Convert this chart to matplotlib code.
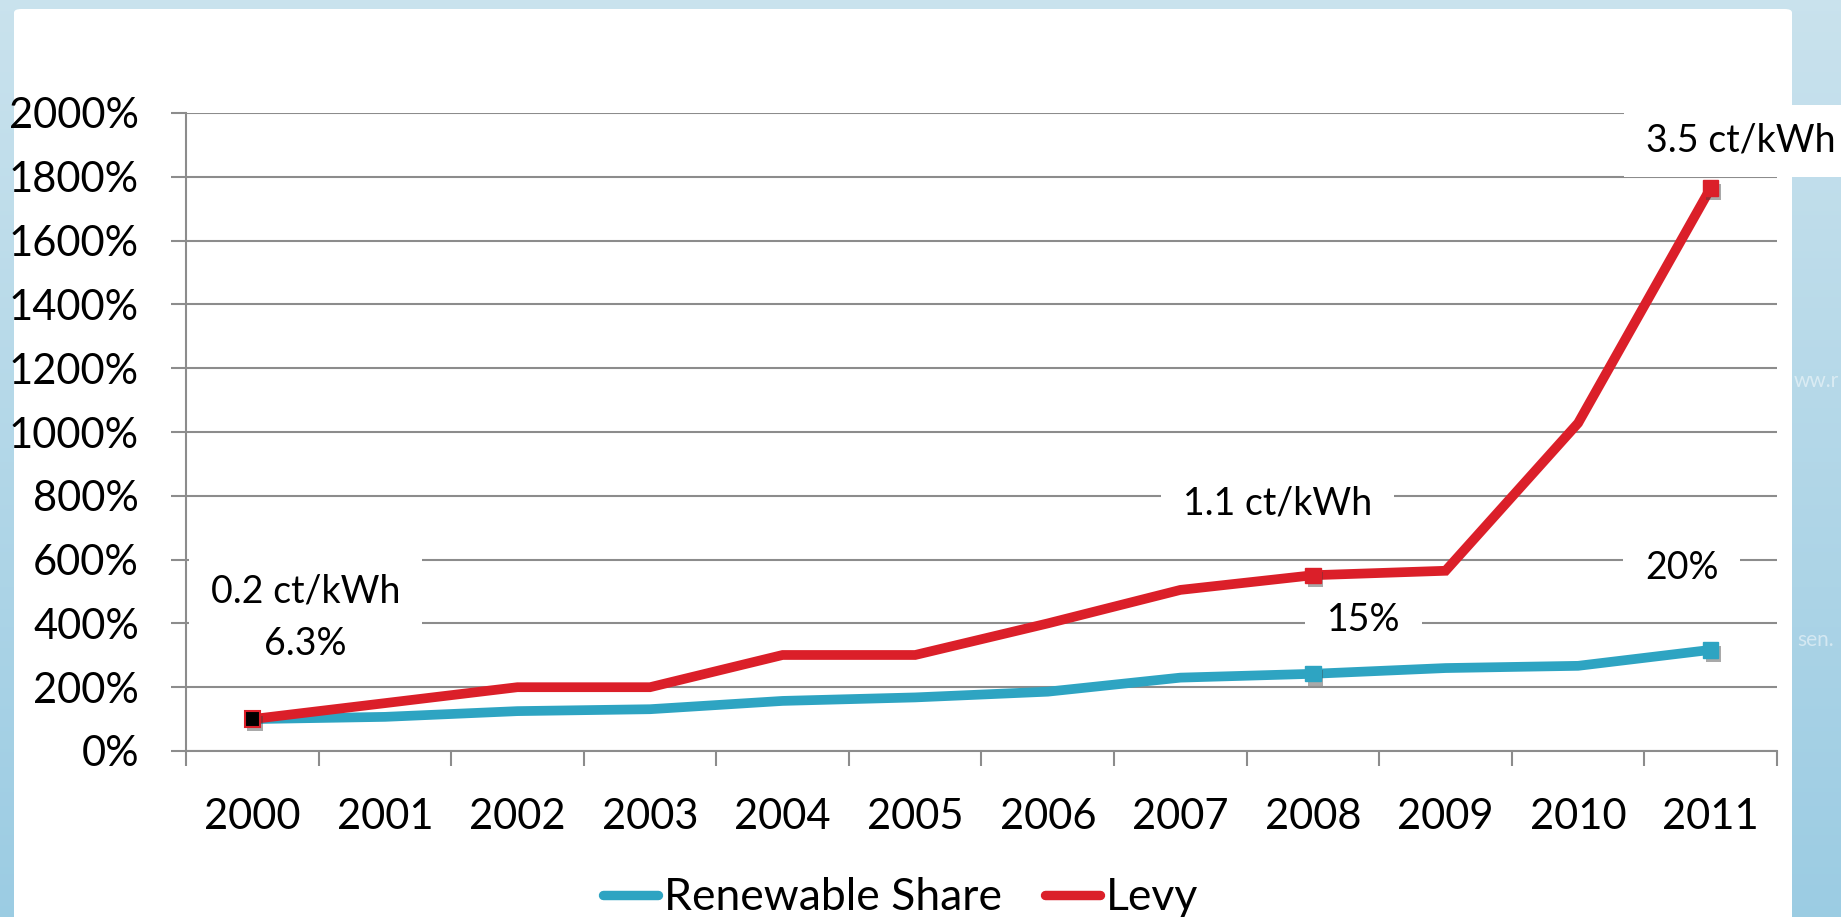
import numpy as np
import matplotlib
matplotlib.use('Agg')
import matplotlib.pyplot as plt
import matplotlib.patheffects as pe
from matplotlib.lines import Line2D
from matplotlib.patches import FancyBboxPatch, Rectangle
from matplotlib.transforms import IdentityTransform

plt.rcParams['font.family'] = ['Lato', 'DejaVu Sans']

# index values, 2000 = 100 %
years = ['2000', '2001', '2002', '2003', '2004', '2005',
         '2006', '2007', '2008', '2009', '2010', '2011']
renewable = [100, 107, 125, 131, 157, 168, 186, 230, 242, 260, 267, 317]
levy = [100, 150, 200, 200, 301, 301, 400, 505, 551, 565, 1028, 1765]

yticks = list(range(0, 2001, 200))

BLUE = '#2ea4c2'
RED = '#db1f29'
GRID = '#8c8c8c'
FS = 30        # tick labels
FS_NOTE = 27   # value notes
FS_LEG = 32    # legend

fig = plt.figure(figsize=(18.41, 9.17), dpi=100)

# backdrop: blue gradient with a white slide panel
bg = fig.add_axes([0, 0, 1, 1], zorder=-10)
bg.axis('off')
grad = np.linspace(0, 1, 256).reshape(-1, 1)
top = np.array([0.79, 0.887, 0.93])
bot = np.array([0.61, 0.80, 0.89])
img = (top + (bot - top) * grad[..., None]).reshape(256, 1, 3)
bg.imshow(img, aspect='auto', extent=[0, 1, 0, 1], origin='upper')
bg.set_xlim(0, 1)
bg.set_ylim(0, 1)
panel = FancyBboxPatch((14 / 1841, -0.05), (1792 - 14) / 1841, 0.05 + (917 - 9) / 917,
                       boxstyle='round,pad=0,rounding_size=0.004',
                       facecolor='white', edgecolor='none', transform=bg.transAxes)
bg.add_patch(panel)
bg.text(1794 / 1841, 1 - 381 / 917, 'ww.r', fontsize=15, color='white', alpha=0.5,
        va='center', ha='left', transform=bg.transAxes)
bg.text(1797 / 1841, 1 - 640 / 917, 'sen.', fontsize=15, color='white', alpha=0.5,
        va='center', ha='left', transform=bg.transAxes)

ax = fig.add_axes([186 / 1841, 166 / 917, (1777 - 186) / 1841, (751 - 113) / 917])
ax.set_facecolor('none')

x = np.arange(len(years))
ax.plot(x, renewable, color=BLUE, lw=7, solid_joinstyle='miter', zorder=3)
ax.plot(x, levy, color=RED, lw=7, solid_joinstyle='miter', zorder=3.2)

shadow = [pe.SimplePatchShadow(offset=(2, -3), shadow_rgbFace='0.25', alpha=0.45), pe.Normal()]
ax.plot(x[[8, 11]], np.array(renewable)[[8, 11]], ls='none', marker='s', ms=11,
        mfc=BLUE, mec=BLUE, zorder=3.5, path_effects=shadow)
ax.plot(x[[8, 11]], np.array(levy)[[8, 11]], ls='none', marker='s', ms=11,
        mfc=RED, mec=RED, zorder=3.6, path_effects=shadow)
ax.plot(x[[0]], np.array(levy)[[0]], ls='none', marker='s', ms=11,
        mfc='black', mec=RED, mew=1.5, zorder=3.7, path_effects=shadow)

ax.set_xlim(-0.5, len(years) - 0.5)
ax.set_ylim(0, 2000)
ax.set_yticks(yticks)
ax.set_yticklabels([f'{v}%' for v in yticks])
ax.set_xticks(np.arange(-0.5, len(years), 1.0))
ax.set_xticklabels([])
ax.set_xticks(x, minor=True)
ax.set_xticklabels(years, minor=True)

ax.set_axisbelow(True)
ax.yaxis.grid(True, color=GRID, lw=1.5)
for s in ['top', 'right']:
    ax.spines[s].set_visible(False)
for s in ['left', 'bottom']:
    ax.spines[s].set_color(GRID)
    ax.spines[s].set_linewidth(1.5)

ax.tick_params(axis='y', which='major', length=10.8, width=1.5, color=GRID,
               labelsize=FS, pad=23)
ax.tick_params(axis='x', which='major', length=10.8, width=1.5, color=GRID)
ax.tick_params(axis='x', which='minor', length=0, labelsize=FS, pad=34)

# value notes; each group gets one white box behind it
notes = [
    [(0.40, 467, '0.2 ct/kWh'), (0.40, 301, '6.3%')],
    [(7.73, 740, '1.1 ct/kWh')],
    [(8.38, 376, '15%')],
    [(10.78, 539, '20%')],
    [(11.23, 1878, '3.5 ct/kWh')],
]
groups = []
for grp in notes:
    texts = [ax.text(nx, ny, txt, fontsize=FS_NOTE, ha='center', va='baseline',
                     zorder=2.3, clip_on=False) for nx, ny, txt in grp]
    groups.append(texts)

fig.canvas.draw()
renderer = fig.canvas.get_renderer()
PADX, PADY = 22, 18
for texts in groups:
    bbs = [t.get_window_extent(renderer) for t in texts]
    x0 = min(b.x0 for b in bbs) - PADX
    x1 = max(b.x1 for b in bbs) + PADX
    y0 = min(b.y0 for b in bbs) - PADY
    y1 = max(b.y1 for b in bbs) + PADY
    ax.add_patch(Rectangle((x0, y0), x1 - x0, y1 - y0, transform=IdentityTransform(),
                           facecolor='white', edgecolor='none', zorder=2.2, clip_on=False))

handles = [Line2D([], [], color=BLUE, lw=6.8, solid_capstyle='round'),
           Line2D([], [], color=RED, lw=6.8, solid_capstyle='round')]
fig.legend(handles, ['Renewable Share', 'Levy'], loc='center',
           bbox_to_anchor=(0.489, 0.021), ncol=2, frameon=False, fontsize=FS_LEG,
           handlelength=1.25, handletextpad=0.12, columnspacing=0.97, borderpad=0)

fig.savefig('out.png', dpi=100)
